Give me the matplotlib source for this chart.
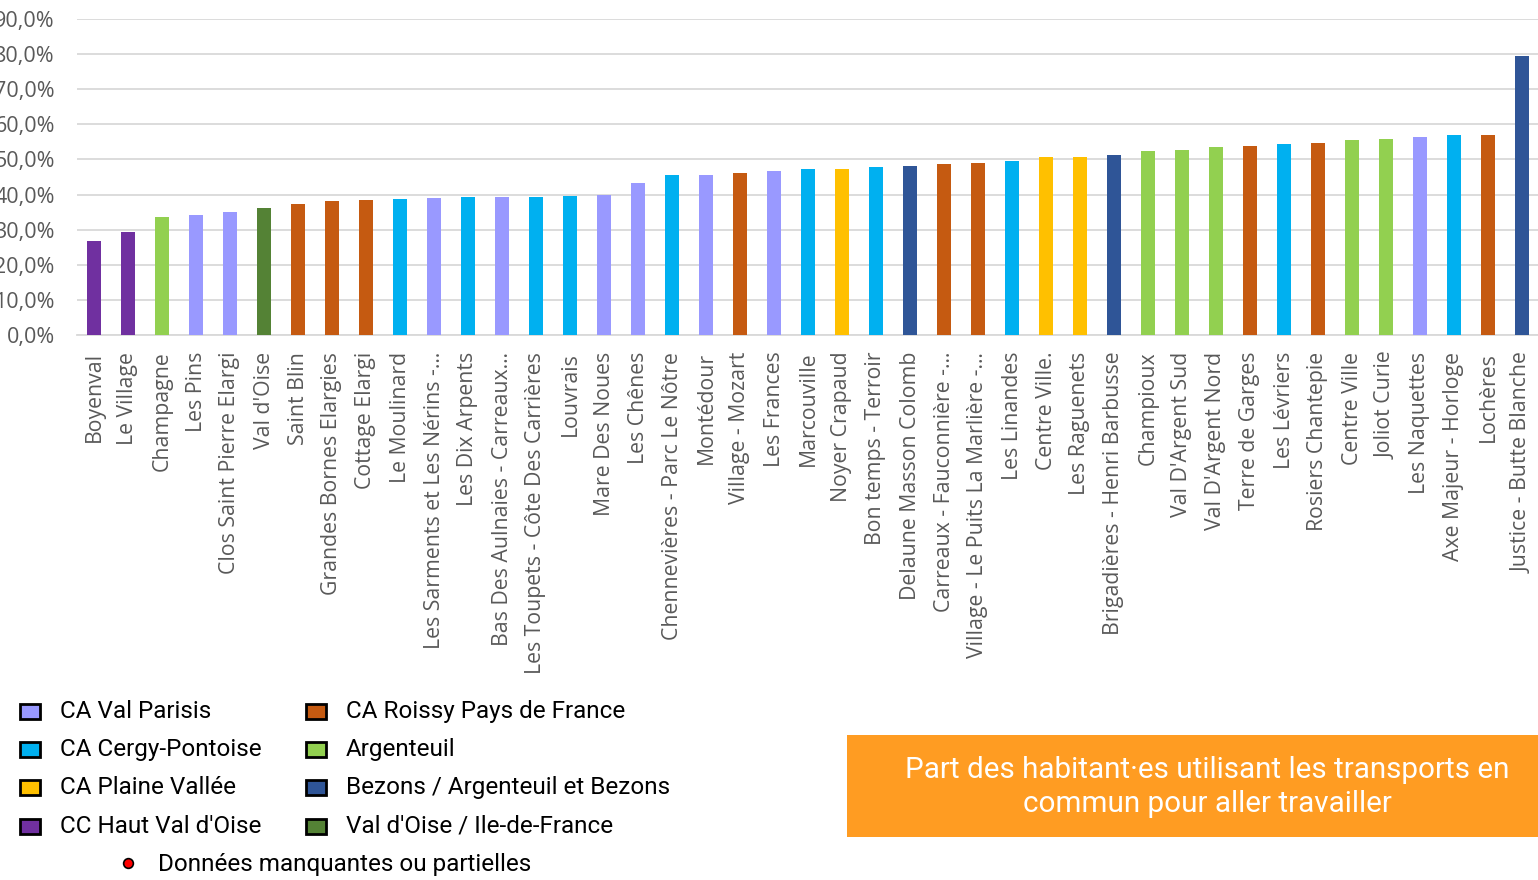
import matplotlib
matplotlib.use("Agg")
import matplotlib.pyplot as plt
from matplotlib.patches import Rectangle
from matplotlib.lines import Line2D
from matplotlib.ticker import FuncFormatter

categories = [
    "Boyenval", "Le Village", "Champagne", "Les Pins", "Clos Saint Pierre Elargi",
    "Val d'Oise", "Saint Blin", "Grandes Bornes Elargies", "Cottage Elargi",
    "Le Moulinard", "Les Sarments et Les Nérins -…", "Les Dix Arpents",
    "Bas Des Aulnaies - Carreaux…", "Les Toupets - Côte Des Carrières", "Louvrais",
    "Mare Des Noues", "Les Chênes", "Chennevières - Parc Le Nôtre", "Montédour",
    "Village - Mozart", "Les Frances", "Marcouville", "Noyer Crapaud",
    "Bon temps - Terroir", "Delaune Masson Colomb", "Carreaux - Fauconnière -…",
    "Village - Le Puits La Marlière -…", "Les Linandes", "Centre Ville.",
    "Les Raguenets", "Brigadières - Henri Barbusse", "Champioux", "Val D'Argent Sud",
    "Val D'Argent Nord", "Terre de Garges", "Les Lévriers", "Rosiers Chantepie",
    "Centre Ville", "Joliot Curie", "Les Naquettes", "Axe Majeur - Horloge",
    "Lochères", "Justice - Butte Blanche",
]

values = [
    26.8, 29.3, 33.6, 34.2, 35.0, 36.2, 37.3, 38.2, 38.5, 38.7, 39.0, 39.3,
    39.3, 39.3, 39.6, 39.9, 43.3, 45.6, 45.6, 46.2, 46.7, 47.3, 47.3, 47.9,
    48.1, 48.7, 49.0, 49.6, 50.7, 50.7, 51.3, 52.4, 52.7, 53.6, 53.8, 54.4,
    54.7, 55.6, 55.8, 56.4, 57.0, 57.0, 79.5,
]

groups = [
    "CC Haut Val d'Oise", "CC Haut Val d'Oise", "Argenteuil", "CA Val Parisis",
    "CA Val Parisis", "Val d'Oise / Ile-de-France", "CA Roissy Pays de France",
    "CA Roissy Pays de France", "CA Roissy Pays de France", "CA Cergy-Pontoise",
    "CA Val Parisis", "CA Cergy-Pontoise", "CA Val Parisis", "CA Cergy-Pontoise",
    "CA Cergy-Pontoise", "CA Val Parisis", "CA Val Parisis", "CA Cergy-Pontoise",
    "CA Val Parisis", "CA Roissy Pays de France", "CA Val Parisis",
    "CA Cergy-Pontoise", "CA Plaine Vallée", "CA Cergy-Pontoise",
    "Bezons / Argenteuil et Bezons", "CA Roissy Pays de France",
    "CA Roissy Pays de France", "CA Cergy-Pontoise", "CA Plaine Vallée",
    "CA Plaine Vallée", "Bezons / Argenteuil et Bezons", "Argenteuil", "Argenteuil",
    "Argenteuil", "CA Roissy Pays de France", "CA Cergy-Pontoise",
    "CA Roissy Pays de France", "Argenteuil", "Argenteuil", "CA Val Parisis",
    "CA Cergy-Pontoise", "CA Roissy Pays de France", "Bezons / Argenteuil et Bezons",
]

legend_col1 = ["CA Val Parisis", "CA Cergy-Pontoise", "CA Plaine Vallée", "CC Haut Val d'Oise"]
legend_col2 = ["CA Roissy Pays de France", "Argenteuil", "Bezons / Argenteuil et Bezons",
               "Val d'Oise / Ile-de-France"]
missing_label = "Données manquantes ou partielles"
title_text = "Part des habitant·es utilisant les transports en\ncommun pour aller travailler"

colors = {
    "CA Val Parisis": "#9999FF",
    "CA Cergy-Pontoise": "#00B0F0",
    "CA Plaine Vallée": "#FFC000",
    "CC Haut Val d'Oise": "#7030A0",
    "CA Roissy Pays de France": "#C55A11",
    "Argenteuil": "#92D050",
    "Bezons / Argenteuil et Bezons": "#2F5597",
    "Val d'Oise / Ile-de-France": "#548235",
}

W, H = 1538, 880
fig = plt.figure(figsize=(W / 100, H / 100), dpi=100)
fig.patch.set_facecolor("white")

ax = fig.add_axes([77 / W, (H - 335) / H, (1539 - 77) / W, (335 - 19) / H])
x = list(range(len(categories)))
ax.bar(x, values, width=0.41, color=[colors[g] for g in groups], zorder=3)
ax.set_xlim(-0.5, len(categories) - 0.5)
ax.set_ylim(0, 90)
ax.set_yticks(range(0, 91, 10))
ax.yaxis.set_major_formatter(FuncFormatter(lambda v, p: f"{v:.1f}".replace(".", ",") + "%"))
ax.grid(axis="y", color="#D9D9D9", linewidth=1.3, zorder=0)
ax.set_axisbelow(True)
for s in ["top", "right", "left"]:
    ax.spines[s].set_visible(False)
ax.spines["bottom"].set_color("#D9D9D9")
ax.spines["bottom"].set_linewidth(1.3)
ax.set_xticks(x)
ax.set_xticklabels(categories, rotation=90, ha="center", va="top",
                   fontfamily="Open Sans", fontsize=15.3, color="#595959")
ax.tick_params(axis="x", length=0, pad=12)
ax.tick_params(axis="y", length=0, pad=16, labelsize=15.5, labelcolor="#595959")
for lab in ax.get_yticklabels():
    lab.set_fontfamily("Open Sans")

# Legend (manual)
rows_y = [711, 749, 787, 826]
for i, name in enumerate(legend_col1):
    yc = rows_y[i]
    fig.patches.append(Rectangle((20 / W, (H - yc - 7.5) / H), 20 / W, 15 / H,
                                 transform=fig.transFigure, facecolor=colors[name],
                                 edgecolor="black", linewidth=2))
    fig.text(60 / W, (H - yc) / H, name, fontfamily="Roboto", fontsize=17.5,
             color="black", va="center", ha="left")
for i, name in enumerate(legend_col2):
    yc = rows_y[i]
    fig.patches.append(Rectangle((306 / W, (H - yc - 7.5) / H), 20 / W, 15 / H,
                                 transform=fig.transFigure, facecolor=colors[name],
                                 edgecolor="black", linewidth=2))
    fig.text(346 / W, (H - yc) / H, name, fontfamily="Roboto", fontsize=17.5,
             color="black", va="center", ha="left")
fig.add_artist(Line2D([128 / W], [(H - 863) / H], marker="o", markersize=7,
                      markerfacecolor="#FF0000", markeredgecolor="black",
                      markeredgewidth=1.2, linestyle="none", transform=fig.transFigure))
fig.text(158 / W, (H - 864) / H, missing_label, fontfamily="Roboto", fontsize=17.5,
         color="black", va="center", ha="left")

# Title box
fig.patches.append(Rectangle((847 / W, (H - 837) / H), (1538 - 847) / W, (837 - 735) / H,
                             transform=fig.transFigure, facecolor="#FF9C22",
                             edgecolor="none"))
fig.text(1207 / W, (H - 787) / H, title_text, fontfamily="Roboto", fontsize=21.3,
         color="white", va="center", ha="center", linespacing=1.3)

fig.savefig("out.png", dpi=100, facecolor="white")
